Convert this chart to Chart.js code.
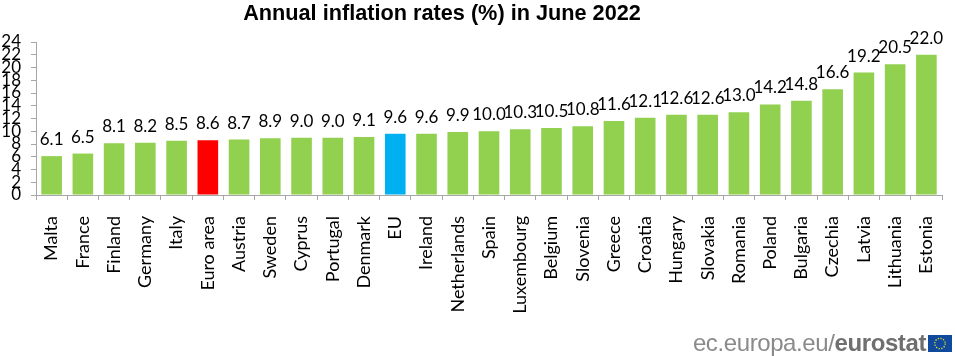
<!DOCTYPE html>
<html>
<head>
<meta charset="utf-8">
<title>Annual inflation rates</title>
<script src="https://cdn.jsdelivr.net/npm/chart.js@4"></script>
<style>
    body { margin: 0; background: #fff; }
    #wrap { position: relative; width: 955px; height: 356px; overflow: hidden; }
    #title { position: absolute; left: 0; top: 1px; width: 884px; text-align: center; font: bold 21.7px "Liberation Sans", sans-serif; color: #000; line-height: 24px; }
    #source { position: absolute; right: 29px; top: 330px; font: 24px "Liberation Sans", sans-serif; color: #8a8a8a; letter-spacing: -0.4px; line-height: 26px; }
    #source b { font-weight: bold; color: #6f6f6f; }
    #flag { position: absolute; left: 928px; top: 335px; width: 24px; height: 17px; }
</style>
</head>
<body>
<div id="wrap">
    <canvas id="chart" width="955" height="356"></canvas>
    <div id="title">Annual inflation rates (%) in June 2022</div>
    <div id="source">ec.europa.eu/<b>eurostat</b></div>
    <svg id="flag" viewBox="0 0 24 17">
        <rect width="24" height="17" fill="#0f4a9c"></rect>
        <circle cx="12" cy="8.5" r="5.2" fill="none" stroke="#e6d93a" stroke-width="1.3" stroke-dasharray="1.3 1.4"></circle>
    </svg>
</div>
<script>
const countries = ['Malta', 'France', 'Finland', 'Germany', 'Italy', 'Euro area', 'Austria', 'Sweden', 'Cyprus', 'Portugal', 'Denmark', 'EU', 'Ireland', 'Netherlands', 'Spain', 'Luxembourg', 'Belgium', 'Slovenia', 'Greece', 'Croatia', 'Hungary', 'Slovakia', 'Romania', 'Poland', 'Bulgaria', 'Czechia', 'Latvia', 'Lithuania', 'Estonia'];
const rates = [6.1, 6.5, 8.1, 8.2, 8.5, 8.6, 8.7, 8.9, 9.0, 9.0, 9.1, 9.6, 9.6, 9.9, 10.0, 10.3, 10.5, 10.8, 11.6, 12.1, 12.6, 12.6, 13.0, 14.2, 14.8, 16.6, 19.2, 20.5, 22.0];

const green = '#92d050';
const barColors = countries.map(c => {
    if ( c === 'Euro area' ) return '#ff0000';
    if ( c === 'EU' ) return '#00b0f0';
    return green;
});

// value above each bar
const valueLabels = {
    id: 'valueLabels',
    afterDatasetsDraw( chart ){
        const ctx = chart.ctx;
        ctx.save();
        ctx.font = '17px Lato, sans-serif';
        ctx.fillStyle = '#000';
        ctx.textAlign = 'center';
        ctx.textBaseline = 'bottom';
        chart.getDatasetMeta(0).data.forEach((bar, i) => {
            ctx.fillText(rates[i].toFixed(1), bar.x, bar.y - 8);
        });
        ctx.restore();
    }
};

new Chart(document.getElementById('chart'), {
    type: 'bar',
    data: {
        labels: countries,
        datasets: [{
            data: rates,
            backgroundColor: barColors,
            barPercentage: 0.66,
            categoryPercentage: 1
        }]
    },
    options: {
        responsive: false,
        animation: false,
        layout: { padding: { top: 42, right: 13, left: 0, bottom: 0 } },
        plugins: {
            legend: { display: false },
            tooltip: { enabled: false },
            title: { display: false }
        },
        scales: {
            x: {
                afterFit: scale => {
                    scale.height = 161;
                    // rotated labels would otherwise pull the right edge in
                    scale.paddingLeft = 0;
                    scale.paddingRight = 0;
                },
                border: { color: '#a6a6a6' },
                grid: { drawOnChartArea: false, offset: true, color: '#a6a6a6', tickLength: 5 },
                ticks: {
                    autoSkip: false,
                    minRotation: 90,
                    maxRotation: 90,
                    padding: 16,
                    color: '#000',
                    font: { family: 'Lato, sans-serif', size: 18 }
                }
            },
            y: {
                min: 0,
                max: 24,
                afterFit: scale => { scale.width = 36; },
                border: { color: '#a6a6a6' },
                grid: { drawOnChartArea: false, color: '#a6a6a6', tickLength: 5 },
                ticks: {
                    stepSize: 2,
                    autoSkip: false,
                    padding: 10,
                    color: '#000',
                    font: { family: 'Lato, sans-serif', size: 17 }
                }
            }
        }
    },
    plugins: [valueLabels]
});
</script>
</body>
</html>
